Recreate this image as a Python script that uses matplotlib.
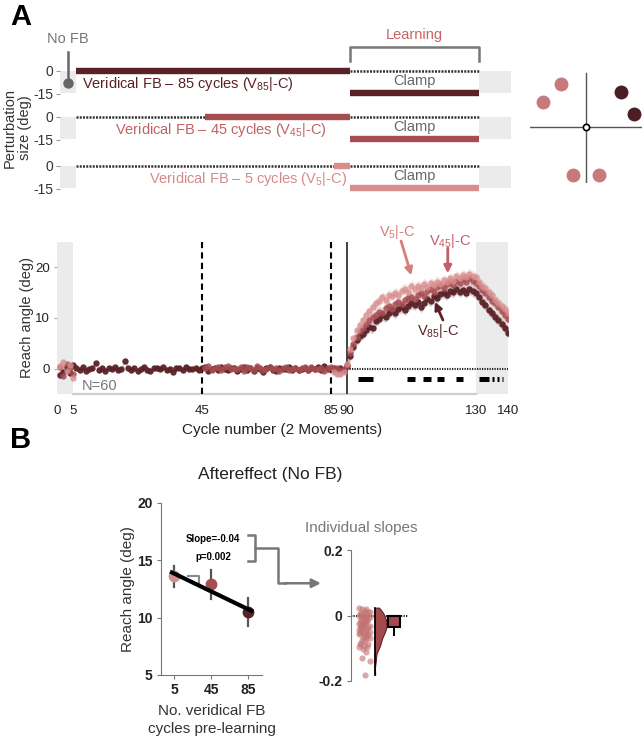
import numpy as np
import matplotlib
matplotlib.use('Agg')
import matplotlib.pyplot as plt
from matplotlib.patches import Rectangle

plt.rcParams['font.family'] = ['Liberation Sans', 'DejaVu Sans']
plt.rcParams['mathtext.fontset'] = 'custom'
plt.rcParams['mathtext.rm'] = 'Liberation Sans'
plt.rcParams['mathtext.bf'] = 'Liberation Sans:bold'
plt.rcParams['mathtext.it'] = 'Liberation Sans:italic'
plt.rcParams['axes.unicode_minus'] = False

# ---------------- data ----------------
DARK = '#5a2227'
MED = '#a64d51'
LIGHT = '#d98e8e'
GRAY = '#777777'
BOX = '#ebebeb'

group_names = ['V85', 'V45', 'V5']
veridical_start = [5, 45, 85]
learn_start, learn_end, n_cycles = 90, 130, 140

# No-FB baseline cycles 1-5
nofb_dark = [-1.2, -0.6, 0.4, -0.9, 0.8]
nofb_med = [0.3, -1.5, 0.9, 0.2, -1.0]
nofb_light = [0.6, 1.3, -0.4, 0.8, -1.8]

# veridical FB baseline (dark: cycles 6-90, med: 46-90, light: 86-90)
base_dark = [0.1, -0.2, 0.3, -0.4, 0.0, 0.2, 1.2, -0.3, 0.1, -0.5,
             0.2, -0.1, 0.3, -0.2, 0.0, 1.6, 0.1, -0.3, 0.2, -0.4,
             0.0, 0.3, -0.2, -0.5, 0.1, 0.2, -0.1, 0.4, -0.3, 0.0,
             -0.6, 0.2, 0.1, -0.2, 0.3, -0.1, 0.0, 0.2, -0.3, 0.1,
             0.3, -0.4, 0.0, 0.2, -0.2, 0.4, -0.1, -0.3, 0.1, 0.2,
             -0.5, 0.0, 0.3, -0.2, 0.1, -0.4, 0.2, 0.0, -0.6, 0.1,
             0.3, -0.2, -0.4, 0.2, 0.0, -0.1, 0.4, -0.3, 0.1, -0.2,
             0.0, 0.2, -0.3, 0.1, -0.1, 0.3, -0.2, 0.5, 0.0, -0.1,
             0.2, -0.3, 0.1, -0.2, 0.6]
base_med = [0.2, 0.5, -0.3, 0.1, 0.4, -0.2, 0.3, 0.6, -0.1, 0.2,
            0.0, 0.4, -0.4, 0.3, 0.1, -0.2, 0.5, 0.2, -0.3, 0.0,
            0.4, -0.1, 0.2, -0.5, 0.1, 0.3, -0.2, 0.0, 0.2, -0.3,
            0.1, 0.3, -0.2, 0.4, 0.0, -0.1, 0.2, -0.4, 0.1, 0.3,
            -0.2, 0.1, -0.5, 0.0, 0.8]
base_light = [-0.6, -1.1, -1.0, -0.7, 0.9]

# learning (91-130) + aftereffect (131-140)
learn_dark = [2.5, 4.2, 5.6, 6.4, 6.9, 7.6, 8.3, 8.0, 9.4, 9.9,
              10.6, 10.2, 11.0, 11.5, 10.9, 11.8, 12.1, 11.6, 12.4, 12.9,
              12.6, 13.2, 12.1, 13.0, 13.7, 13.4, 14.3, 14.0, 14.8, 15.0,
              14.6, 15.4, 15.1, 15.8, 15.2, 15.6, 15.0, 15.7, 15.3, 14.9,
              14.2, 13.1, 12.6, 11.5, 11.0, 10.2, 9.6, 8.9, 8.1, 7.1]
learn_med = [3.1, 4.9, 6.2, 7.4, 8.1, 8.9, 9.6, 10.1, 10.6, 11.2,
             11.0, 11.9, 12.3, 11.8, 12.7, 13.1, 12.8, 13.5, 13.9, 14.2,
             13.8, 14.6, 14.9, 14.4, 15.3, 15.8, 15.2, 16.1, 16.5, 16.0,
             16.8, 17.2, 16.6, 17.4, 17.0, 17.6, 17.1, 17.8, 17.3, 17.0,
             16.3, 15.6, 14.9, 14.2, 13.4, 12.9, 12.1, 11.3, 10.6, 9.9]
learn_light = [3.8, 6.0, 7.6, 8.7, 9.6, 10.6, 11.4, 12.2, 12.9, 13.3,
               14.1, 13.6, 14.6, 14.3, 15.0, 14.6, 15.4, 15.8, 15.2, 16.4,
               15.8, 16.3, 15.9, 16.8, 16.2, 16.9, 16.5, 17.2, 16.8, 17.5,
               17.1, 17.8, 17.4, 18.2, 17.9, 18.5, 18.1, 18.7, 18.3, 18.0,
               17.2, 16.4, 15.9, 15.1, 14.5, 13.6, 13.0, 12.3, 11.8, 11.0]
sem_base = 0.45
sem_learn = 1.1

# significance markers (cycle ranges)
sig_ranges = [(93.5, 98.0), (108.5, 111.0), (113.5, 116.0), (118.0, 120.0),
              (124.0, 126.0), (131.0, 134.0), (135.0, 135.8), (136.6, 137.2), (138.0, 138.6)]

# targets (deg)
targets_light = [120, 150, 255, 285]
targets_dark = [15, 45]

# aftereffect panel
ae_x = [5, 45, 85]
ae_mean = [13.6, 12.9, 10.5]
ae_err = [0.9, 1.25, 1.25]
fit_intercept = 14.05
fit_slope = -0.039

indiv_slopes = [0.024, 0.019, 0.021, 0.012, 0.015, 0.008, 0.010, 0.004, 0.006, 0.001,
                -0.003, -0.001, -0.006, -0.009, -0.004, -0.012, -0.015, -0.011, -0.018, -0.020,
                -0.017, -0.023, -0.026, -0.021, -0.028, -0.031, -0.025, -0.033, -0.036, -0.030,
                -0.039, -0.042, -0.035, -0.044, -0.047, -0.040, -0.050, -0.053, -0.046, -0.056,
                -0.059, -0.052, -0.062, -0.066, -0.058, -0.070, -0.074, -0.068, -0.079, -0.083,
                -0.088, -0.092, -0.086, -0.097, -0.101, -0.095, -0.112, -0.131, -0.140, -0.181]
slope_mean = -0.034
slope_err = 0.027

# ---------------- figure ----------------
W, H = 642, 740
fig = plt.figure(figsize=(W / 100, H / 100), dpi=100)


def add_ax(l, t, r, b):
    return fig.add_axes([l / W, 1 - b / H, (r - l) / W, (b - t) / H])


fig.text(21 / W, 1 - 17 / H, 'A', fontsize=21, fontweight='bold', ha='center', va='center')
fig.text(21 / W, 1 - 440 / H, 'B', fontsize=21, fontweight='bold', ha='center', va='center')

# ---- schematic rows ----
row_cols = [DARK, MED, LIGHT]
row_text_cols = [DARK, '#bf6266', '#d58a8a']
row_labels = ['Veridical FB – 85 cycles (V$_{85}$|-C)',
              'Veridical FB – 45 cycles (V$_{45}$|-C)',
              'Veridical FB – 5 cycles (V$_{5}$|-C)']
row_label_x = [6.8, 17.0, 27.5]
row_tops = [66.4, 112.4, 161.4]
dot_style = dict(color='#333333', lw=1.8, linestyle=(0, (0.8, 0.5)))
row_axes = []
for i in range(3):
    t = row_tops[i]
    ax = add_ax(60, t, 511, t + 30.6)
    row_axes.append(ax)
    ax.set_xlim(0, n_cycles)
    ax.set_ylim(-17, 3)
    ax.add_patch(Rectangle((0, -14.5), 5, 14.5, color=BOX, lw=0, zorder=0))
    ax.add_patch(Rectangle((learn_end, -14.5), n_cycles - learn_end, 14.5, color=BOX, lw=0, zorder=0))
    vs = veridical_start[i]
    if vs > 5:
        ax.plot([5, vs], [0, 0], **dot_style)
    ax.plot([vs, learn_start], [0, 0], color=row_cols[i], lw=4.6, solid_capstyle='butt')
    ax.plot([learn_start, learn_end], [0, 0], **dot_style)
    ax.plot([learn_start, learn_end], [-14.5, -14.5], color=row_cols[i], lw=4.6, solid_capstyle='butt')
    ax.text((learn_start + learn_end) / 2, -6.6, 'Clamp', fontsize=10.5, color='#666666',
            ha='center', va='center')
    ax.text(row_label_x[i], -8.6, row_labels[i], fontsize=10.5, color=row_text_cols[i],
            ha='left', va='center')
    for s in ax.spines.values():
        s.set_visible(False)
    ax.set_xticks([])
    ax.set_yticks([0, -15])
    ax.set_yticklabels(['0', '-15'])
    ax.tick_params(axis='y', length=3, width=0.8, color='#999999', labelsize=10,
                   labelcolor='#333333', pad=2)

r0 = row_axes[0]
r0.plot([2.5, 2.5], [12.4, -7.6], color='#666666', lw=1.8, clip_on=False)
r0.plot([2.5], [-7.8], 'o', color='#666666', ms=6.5, clip_on=False)
r0.text(2.5, 20.9, 'No FB', fontsize=10.5, color=GRAY, ha='center', va='center')
r0.plot([learn_start, learn_start, learn_end, learn_end], [6.8, 15.6, 15.6, 6.8],
        color='#777777', lw=1.8, clip_on=False, solid_joinstyle='round')
r0.text((learn_start + learn_end) / 2, 23.6, 'Learning', fontsize=10.5, color='#c86464',
        ha='center', va='center')

fig.text(17 / W, 1 - 128 / H, 'Perturbation\nsize (deg)', rotation=90, fontsize=10.5,
         color='#333333', ha='center', va='center', linespacing=1.1)

# ---- target diagram ----
axT = add_ax(530, 71, 642, 183)
axT.set_xlim(-56, 56)
axT.set_ylim(-56, 56)
axT.axis('off')
axT.plot([-56, 56], [0, 0], color='#555555', lw=1.0)
axT.plot([0, 0], [-56, 54], color='#555555', lw=1.0)
R = 50
for ang in targets_light:
    a = np.deg2rad(ang)
    axT.plot(R * np.cos(a), R * np.sin(a), 'o', color='#c87a7a', ms=9)
for ang in targets_dark:
    a = np.deg2rad(ang)
    axT.plot(R * np.cos(a), R * np.sin(a), 'o', color='#4a1e22', ms=9)
axT.plot(0, 0, 'o', mfc='white', mec='black', mew=1.2, ms=4.5)

# ---- learning curves ----
axA = add_ax(57, 242, 508, 394)
axA.set_xlim(0, n_cycles)
axA.set_ylim(-5, 25)
axA.axvspan(0, 5, color=BOX, lw=0, zorder=0)
axA.axvspan(learn_end, n_cycles, color=BOX, lw=0, zorder=0)
axA.plot([5, learn_end], [-5, -5], color='#cfcfcf', lw=1.6, clip_on=False, zorder=0.5)
axA.axvline(45, color='black', lw=1.5, ls=(0, (3, 2)), zorder=1)
axA.axvline(85, color='black', lw=1.5, ls=(0, (3, 2)), zorder=1)
axA.axvline(90, color='#333333', lw=1.3, zorder=1)
axA.plot([learn_start, n_cycles], [0, 0], color='#222222', lw=1.5, ls=(0, (0.6, 0.6)), zorder=1)
for a, b in sig_ranges:
    axA.plot([a, b], [-2.0, -2.0], color='black', lw=3.6, solid_capstyle='butt', zorder=2)

series = [
    (DARK, nofb_dark, 6, base_dark, learn_dark, 0.95),
    (MED, nofb_med, 46, base_med, learn_med, 0.85),
    (LIGHT, nofb_light, 86, base_light, learn_light, 0.8),
]
for col, nofb, bstart, base, learn, alpha in series:
    x1 = np.arange(1, 6)
    y1 = np.array(nofb)
    x2 = np.arange(bstart, n_cycles + 1)
    y2 = np.array(base + learn)
    s2 = np.where(x2 <= learn_start, sem_base, sem_learn)
    axA.fill_between(x1, y1 - sem_base, y1 + sem_base, color=col, alpha=0.22, lw=0, zorder=2)
    axA.fill_between(x2, y2 - s2, y2 + s2, color=col, alpha=0.22, lw=0, zorder=2)
    axA.scatter(np.concatenate([x1, x2]), np.concatenate([y1, y2]), s=21, color=col,
                alpha=alpha, lw=0, zorder=3)

axA.text(7.8, -3.4, 'N=60', fontsize=10.5, color=GRAY, ha='left', va='center')
axA.text(105.6, 26.9, 'V$_5$|-C', fontsize=10.5, color='#d47e7e', ha='center', va='center',
         clip_on=False)
axA.annotate('', xy=(110.0, 18.4), xytext=(106.8, 25.2),
             arrowprops=dict(arrowstyle='-|>', color='#d47e7e', lw=2, mutation_scale=11,
                             shrinkA=0, shrinkB=0), annotation_clip=False)
axA.text(122.0, 25.1, 'V$_{45}$|-C', fontsize=10.5, color='#c0606a', ha='center', va='center',
         clip_on=False)
axA.annotate('', xy=(121.3, 18.8), xytext=(121.3, 23.8),
             arrowprops=dict(arrowstyle='-|>', color='#c0606a', lw=2, mutation_scale=11,
                             shrinkA=0, shrinkB=0), annotation_clip=False)
axA.text(118.3, 7.4, 'V$_{85}$|-C', fontsize=10.5, color=DARK, ha='center', va='center')
axA.annotate('', xy=(117.3, 13.2), xytext=(119.8, 9.6),
             arrowprops=dict(arrowstyle='-|>', color=DARK, lw=2, mutation_scale=11,
                             shrinkA=0, shrinkB=0))

for s in ['top', 'right', 'left', 'bottom']:
    axA.spines[s].set_visible(False)
axA.set_xticks([0, 5, 45, 85, 90, 130, 140])
axA.set_yticks([0, 10, 20])
axA.tick_params(axis='x', length=0, labelsize=9.5, pad=8, labelcolor='#222222')
axA.tick_params(axis='y', length=2, color='#aaaaaa', labelsize=9.5, pad=3, labelcolor='#222222')
axA.set_xlabel('Cycle number (2 Movements)', fontsize=11, labelpad=4, color='#222222')
axA.set_ylabel('Reach angle (deg)', fontsize=10.5, labelpad=1, color='#333333')

# ---- aftereffect ----
fig.text(270 / W, 1 - 475 / H, 'Aftereffect (No FB)', fontsize=12.5, ha='center', va='center',
         color='#222222')
axB = add_ax(161, 503, 262, 675)
axB.set_xlim(-9, 100)
axB.set_ylim(5, 20)
ae_cols = [LIGHT, MED, DARK]
for x, m, e, c in zip(ae_x, ae_mean, ae_err, ae_cols):
    axB.plot([x, x], [m - e, m + e], color='#555555', lw=1.6, zorder=2)
    axB.plot(x, m, 'o', color=c, ms=7.5, zorder=3)
fx = np.array([0.7, 90.5])
axB.plot(fx, fit_intercept + fit_slope * fx, color='black', lw=3, zorder=4, solid_capstyle='butt')
axB.plot([20.2, 32, 32], [13.65, 13.65, 13.0], color='#888888', lw=1.5, zorder=1)
axB.text(47.2, 16.9, 'Slope=-0.04', fontsize=7, fontweight='bold', ha='center', va='center')
axB.text(47.2, 15.3, 'p=0.002', fontsize=7, fontweight='bold', ha='center', va='center')
axB.plot([85, 92.6, 92.6, 85], [17.2, 17.2, 14.9, 14.9], color='#777777', lw=1.8, clip_on=False)
axB.plot([92.6, 117.5, 117.5, 125], [16.05, 16.05, 13.0, 13.0], color='#777777', lw=1.8,
         clip_on=False)
axB.annotate('', xy=(163.5, 13.0), xytext=(124, 13.0),
             arrowprops=dict(arrowstyle='-|>', color='#777777', lw=1.8, mutation_scale=13,
                             shrinkA=0, shrinkB=0), annotation_clip=False)
for s in ['top', 'right']:
    axB.spines[s].set_visible(False)
for s in ['left', 'bottom']:
    axB.spines[s].set_color('#777777')
axB.set_xticks(ae_x)
axB.set_yticks([5, 10, 15, 20])
axB.tick_params(length=3, color='#777777', labelsize=10, pad=3, labelcolor='#222222')
for lab in axB.get_xticklabels() + axB.get_yticklabels():
    lab.set_fontweight('bold')
axB.set_xlabel('No. veridical FB\ncycles pre-learning', fontsize=11, labelpad=5,
               color='#333333', linespacing=1.3)
axB.set_ylabel('Reach angle (deg)', fontsize=11, labelpad=1.5, color='#333333')

# ---- individual slopes ----
fig.text(361 / W, 1 - 528 / H, 'Individual slopes', fontsize=11, color=GRAY, ha='center',
         va='center')
axS = add_ax(351, 550, 430, 681)
axS.set_xlim(0, 79)
axS.set_ylim(-0.2, 0.2)
sl = np.array(indiv_slopes)
n = len(sl)
jit = (((np.arange(n) * 7) % 11) - 5) * 1.1
axS.plot([0, 57], [0, 0], color='#222222', lw=1.5, ls=(0, (0.6, 0.6)), zorder=1)
axS.scatter(13 + jit, sl, s=20, color='#c27272', alpha=0.6, lw=0, zorder=2)
ys = np.linspace(sl.min(), sl.max(), 200)
bw = 0.014
dens = np.exp(-0.5 * ((ys[:, None] - sl[None, :]) / bw) ** 2).sum(axis=1)
dens = dens / dens.max() * 12
axS.fill_betweenx(ys, 23.5, 23.5 + dens, color='#a24a4e', lw=0.8, edgecolor='#5a2227', zorder=2)
axS.plot([23.5, 23.5], [sl.min(), sl.max()], color='black', lw=1.2, zorder=3)
axS.plot([43, 43], [slope_mean - slope_err, slope_mean + slope_err], color='black', lw=1.3,
         zorder=3)
axS.bar(43, slope_mean, width=12, color='#a24a4e', edgecolor='black', lw=1.5, zorder=4)
axS.plot([43, 43], [slope_mean - slope_err, slope_mean], color='black', lw=1.3, zorder=5)
for s in ['top', 'right', 'bottom']:
    axS.spines[s].set_visible(False)
axS.spines['left'].set_color('#777777')
axS.set_xticks([])
axS.set_yticks([-0.2, 0, 0.2])
axS.set_yticklabels(['-0.2', '0', '0.2'])
axS.tick_params(axis='y', length=3, color='#777777', labelsize=10, pad=3, labelcolor='#222222')
for lab in axS.get_yticklabels():
    lab.set_fontweight('bold')

fig.savefig('out.png', dpi=100)
